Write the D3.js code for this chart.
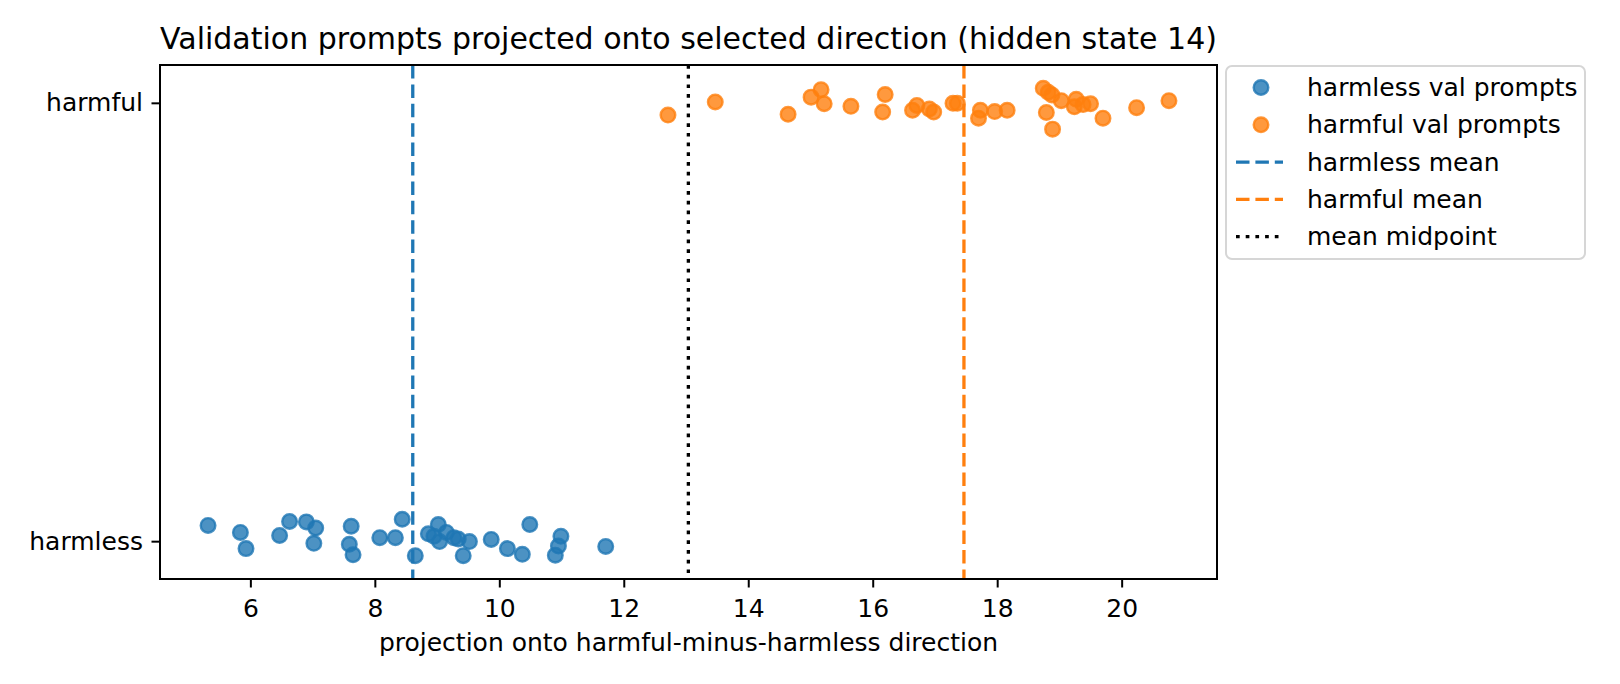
<!DOCTYPE html>
<html>
<head>
<meta charset="utf-8">
<script src="https://cdn.jsdelivr.net/npm/d3@7"></script>
<style>
  body { margin: 0; background: #fff; }
  text { font-family: "DejaVu Sans", sans-serif; fill: #000; }
</style>
</head>
<body>
<svg id="chart"></svg>
<script>
// values
const categories = ["harmless", "harmful"];

const harmlessX = [
  5.32, 5.84, 5.93, 6.47, 6.63, 6.90, 7.05, 7.02, 7.62, 7.59, 7.65, 8.08,
  8.33, 8.44, 8.65, 8.86, 8.95, 9.02, 9.04, 9.15, 9.27, 9.34, 9.52, 9.42,
  9.87, 10.13, 10.37, 10.49, 10.99, 10.95, 10.90, 11.71,
];
const harmlessJitter = [
  0.036, 0.020, -0.017, 0.013, 0.045, 0.044, 0.030, -0.005, 0.034, -0.007,
  -0.031, 0.008, 0.008, 0.050, -0.033, 0.017, 0.011, 0.038, -0.001, 0.020,
  0.008, 0.005, -0.001, -0.033, 0.004, -0.017, -0.030, 0.038, 0.011, -0.011,
  -0.032, -0.012,
];

const harmfulX = [
  12.71, 13.47, 14.64, 15.01, 15.17, 15.22, 15.65, 16.20, 16.16, 16.64,
  16.71, 16.91, 16.98, 17.29, 17.36, 17.73, 17.70, 17.96, 18.16, 18.74,
  18.82, 18.88, 18.79, 18.89, 19.03, 19.27, 19.24, 19.38, 19.50, 19.70,
  20.24, 20.76,
];
const harmfulJitter = [
  -0.028, 0.002, -0.026, 0.013, 0.030, -0.002, -0.008, 0.019, -0.021, -0.017,
  -0.006, -0.014, -0.021, -0.001, -0.001, -0.017, -0.035, -0.020, -0.017, 0.033,
  0.024, 0.018, -0.022, -0.060, 0.005, 0.008, -0.009, -0.004, -0.002, -0.035,
  -0.011, 0.005,
];

const xTicks = [6, 8, 10, 12, 14, 16, 18, 20];

const blue = "#1f77b4";
const orange = "#ff7f0e";

const width = 1620;
const height = 684;
const margin = { top: 65, right: 403, bottom: 105, left: 160 };
const plotW = width - margin.left - margin.right;
const plotH = height - margin.top - margin.bottom;

const svg = d3.select("#chart").attr("width", width).attr("height", height);

// build point rows: y = category index + jitter
const harmless = harmlessX.map((x, i) => ({ x, y: 0 + harmlessJitter[i] }));
const harmful = harmfulX.map((x, i) => ({ x, y: 1 + harmfulJitter[i] }));
const all = harmless.concat(harmful);

// matplotlib-style 5% margins
const pad = (ext) => {
  const r = ext[1] - ext[0];
  return [ext[0] - r * 0.05, ext[1] + r * 0.05];
};

const xScale = d3
  .scaleLinear()
  .domain(pad(d3.extent(all, (d) => d.x)))
  .range([0, plotW]);
const yScale = d3
  .scaleLinear()
  .domain(pad(d3.extent(all, (d) => d.y)))
  .range([plotH, 0]);

const harmlessMean = d3.mean(harmlessX);
const harmfulMean = d3.mean(harmfulX);
const midpoint = (harmlessMean + harmfulMean) / 2;

const container = svg
  .append("g")
  .attr("transform", `translate(${margin.left}, ${margin.top})`);

// points
const drawPoints = (data, color) => {
  container
    .append("g")
    .selectAll("circle")
    .data(data)
    .join("circle")
    .attr("cx", (d) => xScale(d.x))
    .attr("cy", (d) => yScale(d.y))
    .attr("r", 7.3)
    .attr("fill", color)
    .attr("fill-opacity", 0.8)
    .attr("stroke", color)
    .attr("stroke-opacity", 0.8)
    .attr("stroke-width", 2.4);
};
drawPoints(harmless, blue);
drawPoints(harmful, orange);

// vertical reference lines
const vlines = [
  { v: harmlessMean, color: blue, dash: "13.5,5.9" },
  { v: harmfulMean, color: orange, dash: "13.5,5.9" },
  { v: midpoint, color: "#000", dash: "3.7,6" },
];
container
  .append("g")
  .selectAll("line")
  .data(vlines)
  .join("line")
  .attr("x1", (d) => xScale(d.v))
  .attr("x2", (d) => xScale(d.v))
  .attr("y1", 0)
  .attr("y2", plotH)
  .attr("stroke", (d) => d.color)
  .attr("stroke-width", 3.3)
  .attr("stroke-dasharray", (d) => d.dash);

// axes
const xAxis = container
  .append("g")
  .attr("transform", `translate(0, ${plotH})`)
  .call(
    d3.axisBottom(xScale).tickValues(xTicks).tickSize(8.5).tickPadding(8.5).tickSizeOuter(0)
  );
const yAxis = container
  .append("g")
  .call(
    d3
      .axisLeft(yScale)
      .tickValues([0, 1])
      .tickFormat((d) => categories[d])
      .tickSize(8.5)
      .tickPadding(8.5)
      .tickSizeOuter(0)
  );

[xAxis, yAxis].forEach((ax) => {
  ax.select(".domain").remove();
  ax.selectAll(".tick line").attr("stroke", "#000").attr("stroke-width", 2);
  ax.selectAll(".tick text")
    .attr("fill", "#000")
    .style("font-family", "DejaVu Sans")
    .style("font-size", "25px");
});
xAxis.selectAll(".tick text").attr("dy", "0.84em");

// frame
container
  .append("rect")
  .attr("width", plotW)
  .attr("height", plotH)
  .attr("fill", "none")
  .attr("stroke", "#000")
  .attr("stroke-width", 2);

// title and label
svg
  .append("text")
  .attr("x", margin.left + plotW / 2)
  .attr("y", 49)
  .attr("text-anchor", "middle")
  .style("font-size", "30px")
  .text("Validation prompts projected onto selected direction (hidden state 14)");

svg
  .append("text")
  .attr("x", margin.left + plotW / 2)
  .attr("y", 651)
  .attr("text-anchor", "middle")
  .style("font-size", "25px")
  .text("projection onto harmful-minus-harmless direction");

// legend
const legendItems = [
  { label: "harmless val prompts", type: "dot", color: blue },
  { label: "harmful val prompts", type: "dot", color: orange },
  { label: "harmless mean", type: "line", color: blue, dash: "13.5,5.9" },
  { label: "harmful mean", type: "line", color: orange, dash: "13.5,5.9" },
  { label: "mean midpoint", type: "line", color: "#000", dash: "3.7,6" },
];

const legend = svg.append("g").attr("transform", "translate(1226, 66)");
legend
  .append("rect")
  .attr("width", 359)
  .attr("height", 193)
  .attr("rx", 6)
  .attr("fill", "#fff")
  .attr("fill-opacity", 0.8)
  .attr("stroke", "#d6d6d6")
  .attr("stroke-width", 2);

const rows = legend
  .selectAll("g.row")
  .data(legendItems)
  .join("g")
  .attr("class", "row")
  .attr("transform", (d, i) => `translate(0, ${21.5 + i * 37.3})`);

rows
  .filter((d) => d.type === "dot")
  .append("circle")
  .attr("cx", 35)
  .attr("r", 7.3)
  .attr("fill", (d) => d.color)
  .attr("fill-opacity", 0.8)
  .attr("stroke", (d) => d.color)
  .attr("stroke-opacity", 0.8)
  .attr("stroke-width", 2.4);

rows
  .filter((d) => d.type === "line")
  .append("line")
  .attr("x1", 10)
  .attr("x2", 57)
  .attr("stroke", (d) => d.color)
  .attr("stroke-width", 3.3)
  .attr("stroke-dasharray", (d) => d.dash);

rows
  .append("text")
  .attr("x", 81)
  .attr("y", 8.5)
  .style("font-size", "25px")
  .text((d) => d.label);
</script>
</body>
</html>
